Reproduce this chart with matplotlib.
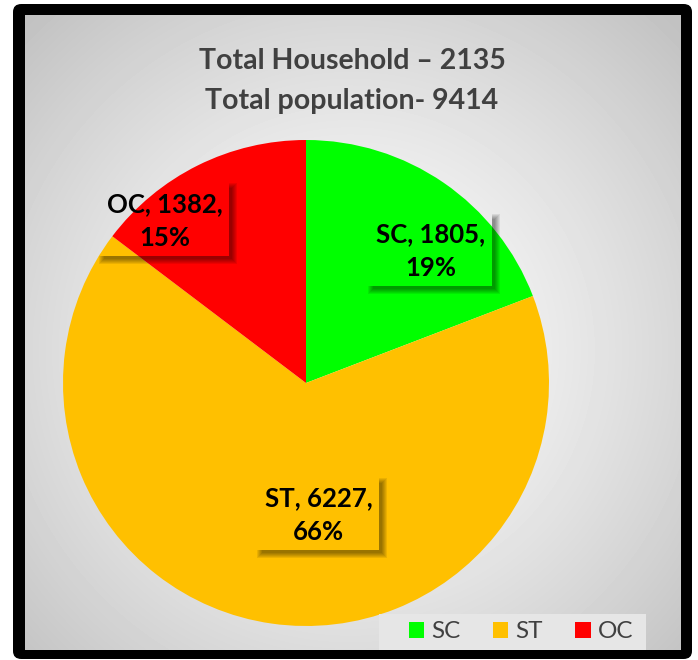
import matplotlib.pyplot as plt
import numpy as np
from matplotlib.patches import FancyBboxPatch, Rectangle

plt.rcParams['font.family'] = ['Lato', 'DejaVu Sans']

categories = ['SC', 'ST', 'OC']
population = [1805, 6227, 1382]
percent_labels = ['19%', '66%', '15%']
colors = ['#00FF00', '#FFC000', '#FF0000']
title_lines = ['Total Household \u2013 2135', 'Total population- 9414']
# label anchor points in pie data units
label_xy = [(0.514, 0.543), (0.053, -0.543), (-0.580, 0.667)]

W, H = 698, 660
fig = plt.figure(figsize=(W / 100, H / 100), dpi=100)
fig.patch.set_facecolor('white')

def fx(px):
    return px / W

def fy(py):
    return 1 - py / H

# black frame
frame = FancyBboxPatch((fx(13), fy(659)), fx(692) - fx(13), fy(4) - fy(659),
                       boxstyle='round,pad=0,rounding_size=0.012',
                       transform=fig.transFigure, facecolor='black',
                       edgecolor='none', zorder=-5)
fig.patches.append(frame)

# radial gradient background
bg = fig.add_axes([fx(25), fy(650), fx(681) - fx(25), fy(15) - fy(650)])
bg.set_zorder(-1)
bg.set_axis_off()
yy, xx = np.mgrid[15:650, 25:681]
r = np.hypot(xx - 350, yy - 350) / 460.0
val = 1.0 - 0.24 * np.clip(r, 0, 1) ** 1.3
bg.imshow(val, cmap='gray', vmin=0, vmax=1, aspect='auto',
          extent=[0, 1, 0, 1], interpolation='bilinear')
bg.set_xlim(0, 1)
bg.set_ylim(0, 1)

# pie
ax = fig.add_axes([fx(63), fy(626), fx(549) - fx(63), fy(140) - fy(626)])
ax.set_zorder(0)
wedges, _ = ax.pie(population, colors=colors, startangle=90, counterclock=False,
                   radius=1, wedgeprops=dict(linewidth=0))
ax.set_xlim(-1, 1)
ax.set_ylim(-1, 1)
ax.set_aspect('equal')
ax.set_axis_off()

texts = []
for cat, val_, pct, (lx, ly), col in zip(categories, population, percent_labels, label_xy, colors):
    t = ax.text(lx, ly, f'{cat}, {val_},\n{pct}', ha='center', va='center',
                fontsize=18.5, fontweight='bold', color='black', linespacing=1.5,
                bbox=dict(boxstyle='square,pad=0.25', facecolor='none', edgecolor='none'),
                zorder=5)
    texts.append(t)

# title
fig.text(fx(352), fy(69), title_lines[0], ha='center', va='baseline',
         fontsize=20.5, fontweight='bold', color='#404040')
fig.text(fx(352), fy(109), title_lines[1], ha='center', va='baseline',
         fontsize=20.5, fontweight='bold', color='#404040')

# legend background and legend
fig.patches.append(Rectangle((fx(379), fy(650)), fx(646) - fx(379), fy(614) - fy(650),
                             transform=fig.transFigure, facecolor='#e6e6e6',
                             edgecolor='none', zorder=1))
leg = fig.legend(wedges, categories, loc='center', ncol=3,
                 bbox_to_anchor=(fx(521), fy(632)), frameon=False,
                 fontsize=17.5, handlelength=0.65, handleheight=0.65,
                 handletextpad=0.3, columnspacing=1.3, labelcolor='#404040')
leg.set_zorder(6)

# soft shadows under label boxes (drawn in pixel coords)
fig.canvas.draw()
for t in texts:
    bb = t.get_bbox_patch().get_window_extent()
    x0, y0, x1, y1 = bb.x0, bb.y0, bb.x1, bb.y1
    d = 3
    for k in range(6):
        a = 0.08
        fig.patches.append(Rectangle((x0 + d - k, y0 - d - k), (x1 - x0) + 2 * k, d + k,
                                     transform=None, facecolor='black', alpha=a,
                                     edgecolor='none', zorder=4))
        fig.patches.append(Rectangle((x1, y0), d + k, (y1 - y0) - d + k,
                                     transform=None, facecolor='black', alpha=a,
                                     edgecolor='none', zorder=4))

fig.savefig('out.png', dpi=100)
